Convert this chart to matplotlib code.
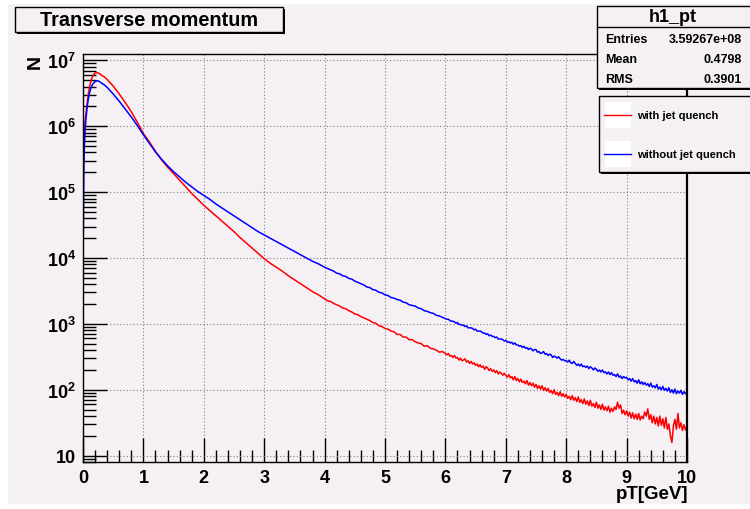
import numpy as np
import matplotlib
matplotlib.use("Agg")
import matplotlib.pyplot as plt
from matplotlib.patches import Rectangle
from matplotlib.lines import Line2D
from matplotlib.ticker import (FixedLocator, AutoMinorLocator, LogLocator,
                               FuncFormatter, NullFormatter)

# ── Histogram contents (log10 of counts per bin) ──────────────
# bin centres: fine near the peak, coarser in the middle, fine again in the noisy tail
pt_low = [0.005, 0.015, 0.025, 0.035, 0.05, 0.07, 0.09, 0.11, 0.13, 0.15,
          0.17, 0.19, 0.21, 0.23, 0.25, 0.27, 0.30, 0.35, 0.40, 0.45]
pt_mid = np.round(np.arange(0.5, 3.95, 0.1), 3)
pt_tail1 = np.round(np.arange(4.0, 5.99, 0.05), 3)
pt_tail2 = np.round(np.arange(6.0, 10.0001, 0.025), 3)
pt = np.concatenate([pt_low, pt_mid, pt_tail1, pt_tail2])

quench_low = [5.30, 5.60, 5.90, 6.08, 6.20, 6.36, 6.50, 6.61, 6.68, 6.74,
              6.77, 6.80, 6.81, 6.81, 6.81, 6.80, 6.78, 6.75, 6.71, 6.66]
quench_mid = [6.61, 6.49, 6.36, 6.22, 6.06, 5.89, 5.76, 5.62, 5.49, 5.38,
              5.28, 5.18, 5.08, 4.98, 4.89, 4.80, 4.72, 4.64, 4.56, 4.48,
              4.40, 4.31, 4.23, 4.15, 4.07, 3.99, 3.92, 3.86, 3.80, 3.73,
              3.67, 3.61, 3.55, 3.49, 3.44]
quench_tail1 = [3.38, 3.35, 3.34, 3.31, 3.29, 3.27, 3.24, 3.23, 3.20, 3.18,
                3.15, 3.14, 3.11, 3.09, 3.07, 3.05, 3.02, 3.01, 2.97, 2.96,
                2.93, 2.92, 2.89, 2.88, 2.84, 2.84, 2.80, 2.80, 2.76, 2.76,
                2.73, 2.71, 2.70, 2.66, 2.67, 2.63, 2.62, 2.60, 2.57, 2.58]
quench_tail2 = [2.55, 2.53, 2.55, 2.51, 2.52, 2.49, 2.52, 2.48, 2.49, 2.45,
                2.48, 2.44, 2.45, 2.47, 2.42, 2.44, 2.40, 2.43, 2.39, 2.41,
                2.37, 2.39, 2.35, 2.38, 2.34, 2.36, 2.31, 2.35, 2.33, 2.29,
                2.32, 2.28, 2.30, 2.26, 2.29, 2.24, 2.27, 2.25, 2.22, 2.25,
                2.22, 2.19, 2.23, 2.18, 2.20, 2.15, 2.20, 2.14, 2.17, 2.12,
                2.16, 2.11, 2.13, 2.09, 2.14, 2.07, 2.11, 2.06, 2.10, 2.04,
                2.08, 2.02, 2.06, 2.01, 2.06, 1.99, 2.03, 1.98, 2.02, 1.96,
                1.99, 1.94, 2.00, 1.93, 1.96, 1.91, 1.97, 1.90, 1.94, 1.89,
                1.93, 1.87, 1.90, 1.85, 1.91, 1.84, 1.88, 1.82, 1.89, 1.81,
                1.85, 1.79, 1.86, 1.78, 1.83, 1.76, 1.84, 1.75, 1.79, 1.73,
                1.81, 1.72, 1.77, 1.70, 1.78, 1.69, 1.74, 1.68, 1.75, 1.66,
                1.72, 1.67, 1.74, 1.70, 1.81, 1.72, 1.77, 1.64, 1.69, 1.62,
                1.68, 1.60, 1.66, 1.57, 1.65, 1.56, 1.63, 1.55, 1.64, 1.54,
                1.60, 1.56, 1.66, 1.60, 1.71, 1.55, 1.62, 1.50, 1.60, 1.48,
                1.58, 1.45, 1.60, 1.46, 1.56, 1.42, 1.58, 1.40, 1.48, 1.30,
                1.20, 1.45, 1.55, 1.40, 1.64, 1.42, 1.50, 1.38, 1.47, 1.39,
                1.43]

noquench_low = [4.40, 5.45, 5.75, 5.95, 6.12, 6.30, 6.42, 6.51, 6.58, 6.62,
                6.65, 6.67, 6.68, 6.69, 6.69, 6.68, 6.66, 6.63, 6.59, 6.54]
noquench_mid = [6.49, 6.38, 6.26, 6.14, 6.01, 5.87, 5.74, 5.61, 5.50, 5.40,
                5.31, 5.23, 5.15, 5.08, 5.01, 4.95, 4.89, 4.82, 4.76, 4.70,
                4.64, 4.58, 4.52, 4.46, 4.40, 4.35, 4.30, 4.25, 4.20, 4.15,
                4.10, 4.05, 4.00, 3.95, 3.91]
noquench_tail1 = [3.86, 3.84, 3.82, 3.80, 3.77, 3.76, 3.73, 3.72, 3.69, 3.68,
                  3.65, 3.63, 3.61, 3.59, 3.56, 3.55, 3.52, 3.51, 3.48, 3.47,
                  3.44, 3.43, 3.40, 3.39, 3.37, 3.36, 3.33, 3.32, 3.29, 3.28,
                  3.27, 3.24, 3.23, 3.20, 3.19, 3.17, 3.16, 3.13, 3.12, 3.10]
noquench_tail2 = [3.08, 3.07, 3.07, 3.05, 3.04, 3.04, 3.03, 3.01, 3.02, 2.99,
                  2.99, 2.98, 2.98, 2.96, 2.97, 2.94, 2.94, 2.94, 2.93, 2.91,
                  2.92, 2.89, 2.89, 2.89, 2.88, 2.86, 2.86, 2.84, 2.85, 2.82,
                  2.83, 2.81, 2.81, 2.79, 2.80, 2.77, 2.77, 2.77, 2.76, 2.74,
                  2.75, 2.72, 2.73, 2.71, 2.72, 2.69, 2.71, 2.68, 2.68, 2.66,
                  2.67, 2.64, 2.66, 2.63, 2.64, 2.61, 2.63, 2.62, 2.59, 2.61,
                  2.61, 2.57, 2.58, 2.55, 2.56, 2.58, 2.54, 2.55, 2.52, 2.54,
                  2.53, 2.49, 2.51, 2.50, 2.48, 2.50, 2.47, 2.45, 2.46, 2.44,
                  2.44, 2.42, 2.45, 2.41, 2.40, 2.43, 2.40, 2.37, 2.39, 2.36,
                  2.39, 2.35, 2.36, 2.34, 2.36, 2.32, 2.35, 2.33, 2.30, 2.33,
                  2.31, 2.28, 2.30, 2.27, 2.30, 2.26, 2.27, 2.24, 2.27, 2.23,
                  2.26, 2.22, 2.23, 2.20, 2.24, 2.19, 2.21, 2.17, 2.20, 2.18,
                  2.19, 2.15, 2.17, 2.13, 2.17, 2.12, 2.14, 2.10, 2.15, 2.09,
                  2.12, 2.08, 2.11, 2.07, 2.09, 2.05, 2.10, 2.04, 2.06, 2.03,
                  2.08, 2.01, 2.04, 2.00, 2.05, 1.99, 2.02, 1.98, 2.03, 1.96,
                  2.00, 1.95, 2.01, 1.94, 1.98, 1.95, 1.99, 1.93, 1.97, 1.94,
                  1.96]

n_quench = 10 ** np.array(quench_low + quench_mid + quench_tail1 + quench_tail2)
n_noquench = 10 ** np.array(noquench_low + noquench_mid + noquench_tail1 + noquench_tail2)

decades = [1e1, 1e2, 1e3, 1e4, 1e5, 1e6, 1e7]
stats_rows = [("Entries", "3.59267e+08"), ("Mean", "0.4798"), ("RMS", "0.3901")]
legend_rows = [("with jet quench", "#ff0000"), ("without jet quench", "#0000ff")]

# ── Style ─────────────────────────────────────────────────────
plt.rcParams['font.family'] = ['Liberation Sans', 'DejaVu Sans']
plt.rcParams['font.weight'] = 'bold'
plt.rcParams['mathtext.fontset'] = 'custom'
plt.rcParams['mathtext.rm'] = 'Liberation Sans:bold'
plt.rcParams['mathtext.it'] = 'Liberation Sans:bold'
plt.rcParams['mathtext.bf'] = 'Liberation Sans:bold'

W, H = 750, 510
CANVAS = '#f4f0f4'


def fx(x):
    return x / W


def fy(y):
    return 1 - y / H


def box(x0, y0, x1, y1, shadow=2, face=CANVAS):
    # ROOT-like pave: black drop shadow, then the filled box on top
    if shadow:
        fig.add_artist(Rectangle((fx(x0 + shadow), fy(y1 + shadow)),
                                 fx(x1 - x0), (y1 - y0) / H,
                                 transform=fig.transFigure,
                                 facecolor='black', edgecolor='none', zorder=5))
    fig.add_artist(Rectangle((fx(x0), fy(y1)), fx(x1 - x0), (y1 - y0) / H,
                             transform=fig.transFigure, facecolor=face,
                             edgecolor='black', linewidth=1, zorder=6))


fig = plt.figure(figsize=(7.5, 5.1), dpi=100, facecolor='white')
fig.add_artist(Rectangle((fx(8), fy(505)), fx(W - 8), (505 - 5) / H,
                         transform=fig.transFigure, facecolor=CANVAS,
                         edgecolor='none', zorder=-10))

ax = fig.add_axes([fx(83), fy(463), fx(687 - 83), (463 - 55) / H])
ax.set_facecolor(CANVAS)

ax.plot(pt, n_quench, color=legend_rows[0][1], linewidth=1.1)
ax.plot(pt, n_noquench, color=legend_rows[1][1], linewidth=1.1)

ax.set_xlim(0, 10)
ax.set_yscale('log')
ax.set_ylim(8.0, 1.25e7)

ax.xaxis.set_major_locator(FixedLocator(range(11)))
ax.xaxis.set_minor_locator(AutoMinorLocator(5))
ax.yaxis.set_major_locator(FixedLocator(decades))
ax.yaxis.set_minor_locator(LogLocator(base=10, subs=np.arange(2, 10), numticks=20))
ax.yaxis.set_minor_formatter(NullFormatter())


def decade_label(v, pos):
    e = int(round(np.log10(v)))
    return '10' if e == 1 else r'$10^{%d}$' % e


ax.yaxis.set_major_formatter(FuncFormatter(decade_label))
ax.tick_params(which='major', direction='in', length=17, width=1,
               top=False, right=False, labelsize=13)
ax.tick_params(axis='x', which='major', pad=5)
ax.tick_params(axis='y', which='major', pad=5)
ax.tick_params(which='minor', direction='in', length=9, width=1,
               top=False, right=False)

ax.grid(True, which='major', color='#808080', linestyle=(0, (1, 2)),
        linewidth=0.8)
ax.set_axisbelow(True)
for side in ['left', 'bottom', 'top']:
    ax.spines[side].set_linewidth(1.0)
ax.spines['right'].set_linewidth(1.6)

fig.text(fx(35), fy(62), 'N', rotation=90, fontsize=14, ha='center', va='center')
fig.text(fx(688), fy(495), 'pT[GeV]', fontsize=13.5, ha='right', va='center')

# ── Title pave ────────────────────────────────────────────────
box(15, 8, 283, 33)
fig.text(fx(149), fy(21), 'Transverse momentum', fontsize=14.3,
         ha='center', va='center', zorder=7)

# ── Statistics pave ───────────────────────────────────────────
box(597, 7, 752, 89)
fig.add_artist(Line2D([fx(597), fx(752)], [fy(28), fy(28)],
                      transform=fig.transFigure, color='black',
                      linewidth=1, zorder=7))
fig.text(fx(673), fy(18), 'h1_pt', fontsize=13, ha='center', va='center',
         zorder=7)
for i, (name, val) in enumerate(stats_rows):
    y = 40 + i * 20
    fig.text(fx(605), fy(y), name, fontsize=9, ha='left', va='center', zorder=7)
    fig.text(fx(742), fy(y), val, fontsize=9, ha='right', va='center', zorder=7)

# ── Legend pave ───────────────────────────────────────────────
box(599, 97, 752, 173)
for i, (label, colour) in enumerate(legend_rows):
    yc = 116 + i * 39
    fig.add_artist(Rectangle((fx(605), fy(yc + 13)), fx(26), 26 / H,
                             transform=fig.transFigure, facecolor='white',
                             edgecolor='none', zorder=7))
    fig.add_artist(Line2D([fx(604), fx(631)], [fy(yc), fy(yc)],
                          transform=fig.transFigure, color=colour,
                          linewidth=1, zorder=8))
    fig.text(fx(637), fy(yc), label, fontsize=8, ha='left', va='center',
             zorder=8)

fig.savefig('out.png', dpi=100, facecolor='white')
